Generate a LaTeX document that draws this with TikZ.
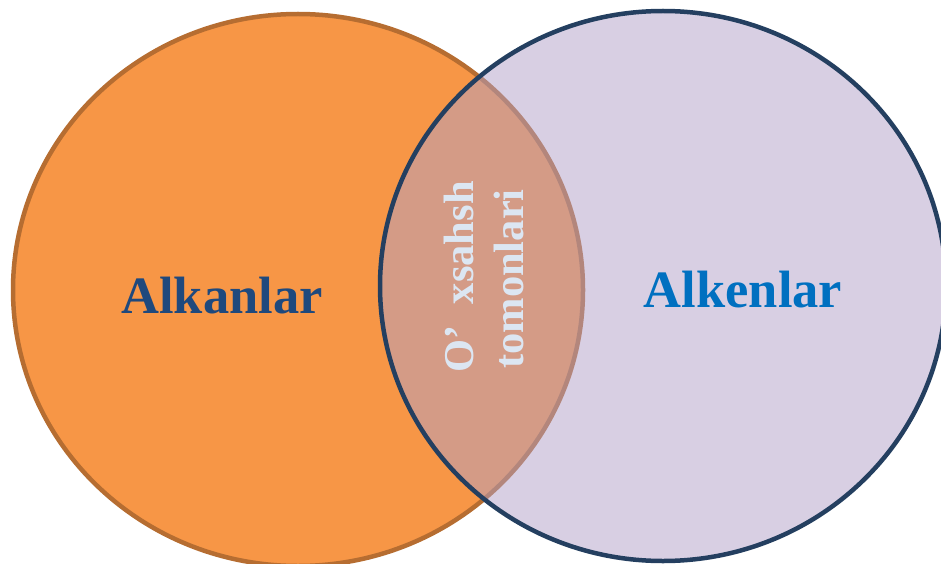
\documentclass[tikz,border=0pt]{standalone}
\usepackage{fontspec}
\setmainfont{Liberation Serif}
\definecolor{orfill}{RGB}{247,150,70}
\definecolor{ordraw}{RGB}{182,109,49}
\definecolor{pufill}{RGB}{178,160,199}
\definecolor{pudraw}{RGB}{36,63,96}
\definecolor{alkan}{RGB}{31,73,125}
\definecolor{alken}{RGB}{0,112,192}
\definecolor{midtext}{RGB}{220,230,242}
\begin{document}
\begin{tikzpicture}[x=1pt,y=-1pt,
  bigtext/.style={font=\fontsize{52.5}{60}\selectfont\bfseries, inner sep=0pt, anchor=base},
  midlabel/.style={font=\fontsize{42.5}{50}\selectfont\bfseries, text=midtext, inner sep=0pt, anchor=base, rotate=90}]
\useasboundingbox (0,0) rectangle (941,564);
\begin{scope}
\clip (0,0) rectangle (941,564);
\fill[orfill] (298,290) ellipse [x radius=285, y radius=276];
\draw[ordraw, line width=4.5pt] (298,290) ellipse [x radius=285, y radius=276];
\fill[pufill, fill opacity=0.5] (663,286) ellipse [x radius=283, y radius=275];
\draw[pudraw, line width=4.5pt] (663,286) ellipse [x radius=283, y radius=275];
\end{scope}
\node[bigtext, text=alkan] (alkanlar) at (222,313) {Alkanlar};
\node[bigtext, text=alken] (alkenlar) at (743,307) {Alkenlar};
\node[midlabel] (mid1) at (473,277) {O’\ \ xsahsh};
\node[midlabel] (mid2) at (523,279) {tomonlari};
\end{tikzpicture}
\end{document}
